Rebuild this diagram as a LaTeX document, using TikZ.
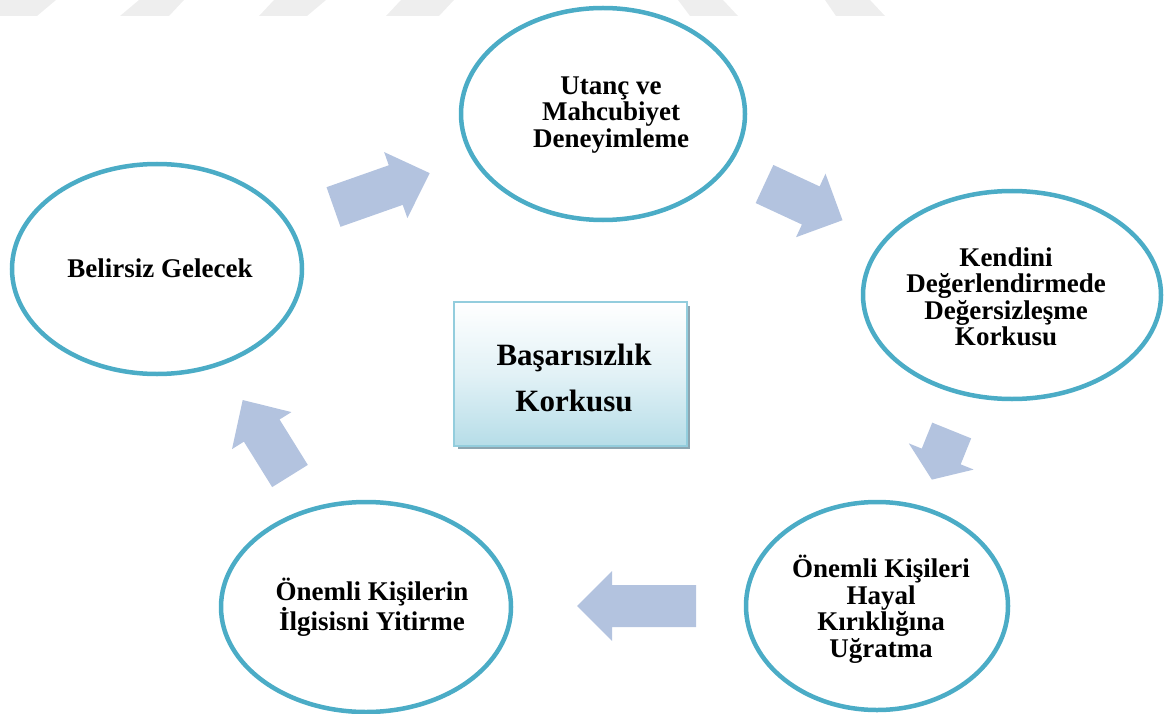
\documentclass[tikz,border=0pt]{standalone}
\usepackage{fontspec}
\setmainfont{Liberation Serif}
\usetikzlibrary{shapes.geometric}
\definecolor{ringcol}{HTML}{4BACC6}
\definecolor{arrowcol}{HTML}{B3C3DF}
\definecolor{boxline}{HTML}{93CDDD}
\definecolor{boxblue}{HTML}{B6DDE8}
\definecolor{boxshadow}{HTML}{8DA6B1}
\definecolor{markgray}{HTML}{EEEEEE}
% block arrow: tail centre (#1,#2), direction #3 (deg), length #4, head length #5
\newcommand\blockarrow[5]{%
  \fill[arrowcol, shift={(#1,#2)}, rotate=#3]
    (0,21) -- ({#4-#5},21) -- ({#4-#5},35) -- (#4,0)
    -- ({#4-#5},-35) -- ({#4-#5},-21) -- (0,-21) -- cycle;}
\begin{document}
\begin{tikzpicture}[x=1pt, y=-1pt,
  ring/.style={ellipse, draw=ringcol, line width=4.5pt, fill=white, inner sep=0pt},
  ringtext/.style={align=center, inner sep=0pt,
    font=\bfseries\fontsize{27}{26.5}\selectfont},
  hubbox/.style={draw=boxline, line width=2pt, top color=white,
    bottom color=boxblue, middle color=boxblue!40, inner sep=0pt,
    minimum width=233pt, minimum height=144pt}]
\useasboundingbox (0,0) rectangle (1174,714);

% faint stripes along the top edge
\foreach \a/\b/\c/\d in {0/56/37/0, 139/184/169/120, 274/326/307/259,
                         401/454/439/386, 678/723/738/690, 825/870/885/836}
  \fill[markgray] (\a,0) -- (\b,0) -- (\c,16) -- (\d,16) -- cycle;

% the five stages
\node[ring, minimum width=284pt, minimum height=212pt] (shame)  at (603,114) {};
\node[ring, minimum width=298pt, minimum height=208pt] (self)   at (1012,295) {};
\node[ring, minimum width=262pt, minimum height=208pt] (letdown) at (877,606) {};
\node[ring, minimum width=290pt, minimum height=210pt] (lose)   at (366,607) {};
\node[ring, minimum width=290pt, minimum height=210pt] (future) at (157,269) {};

\node[ringtext] (shameT)   at (611,115) {Utanç ve\\Mahcubiyet\\Deneyimleme};
\node[ringtext] (selfT)    at (1006,297) {Kendini\\Değerlendirmede\\Değersizleşme\\Korkusu};
\node[ringtext] (letdownT) at (881,609) {Önemli Kişileri\\Hayal\\Kırıklığına\\Uğratma};
\node[ringtext] (loseT)    at (372,607) {Önemli Kişilerin\\İlgisisni Yitirme};
\node[ringtext] (futureT)  at (160,268) {Belirsiz Gelecek};

% central box with its shadow
\fill[boxshadow] (458,306) rectangle (690,449);
\node[hubbox] (hub) at (570.5,374) {};
\node[align=center, font=\bfseries\fontsize{31}{46.5}\selectfont]
  (hubT) at (574,378) {Başarısızlık\\Korkusu};

% block arrows between the stages
\blockarrow{333.5}{207}{19.4}{102}{36}
\blockarrow{764.5}{184}{-24.9}{86}{35}
\blockarrow{951.7}{430.5}{-112}{53}{25}
\blockarrow{696}{606}{180}{119}{35}
\blockarrow{290}{476}{121.9}{89.5}{36}
\end{tikzpicture}
\end{document}
